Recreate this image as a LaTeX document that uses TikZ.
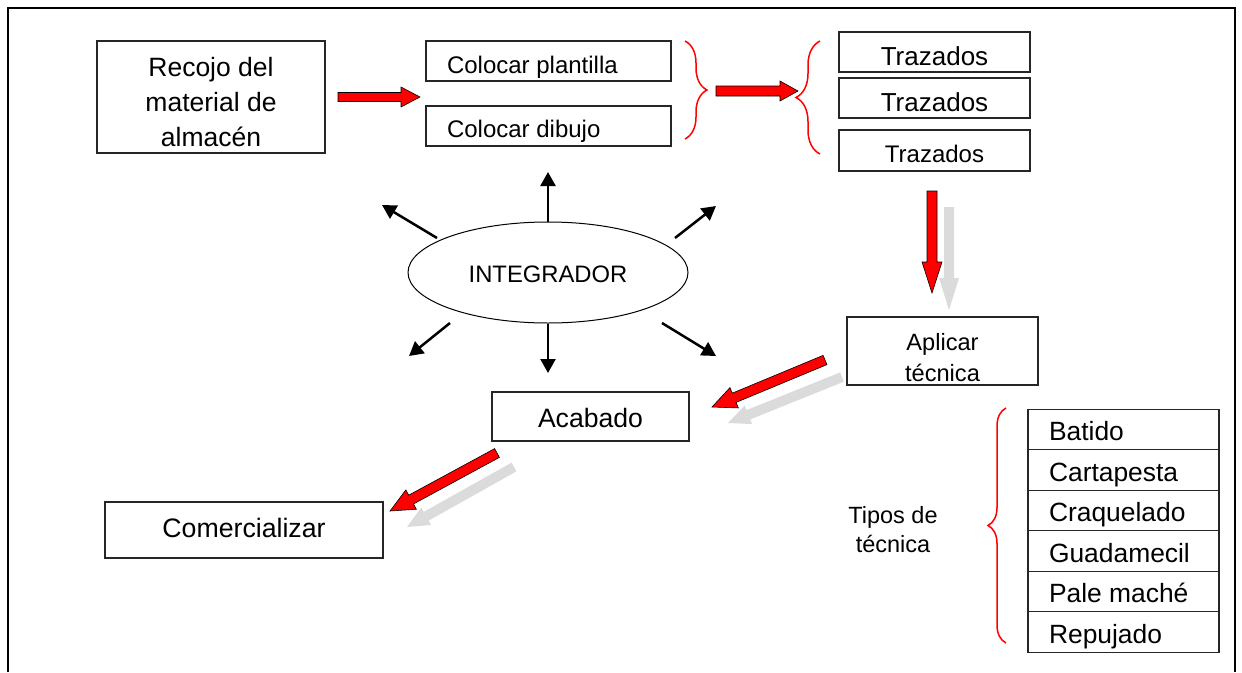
\documentclass[tikz,border=0pt]{standalone}
\usepackage{fontspec}
\setmainfont{Liberation Sans}
\usetikzlibrary{shapes.geometric,decorations.pathreplacing,calc,arrows.meta}
\newcommand\tx[4]{\raisebox{0pt}[#1][#2]{\begin{tabular}[t]{@{}#3@{}}#4\end{tabular}}}
\newcommand\blockarrow[6]{%
  \coordinate (bah) at ($(#2)!#5!(#1)$);
  \path[#6] ($(#1)!#3!90:(#2)$) -- ($(bah)!#3!90:(#2)$) -- ($(bah)!#4!90:(#2)$) -- (#2)
    -- ($(bah)!#4!-90:(#2)$) -- ($(bah)!#3!-90:(#2)$) -- ($(#1)!#3!-90:(#2)$) -- cycle;}
\begin{document}
\begin{tikzpicture}[x=1pt,y=-1pt,
  box/.style={draw=black!85, line width=1.2pt, inner sep=0pt, rectangle},
  redarrow/.style={fill=red, draw=black, line width=0.6pt},
  grayarrow/.style={fill=black!14, draw=none},
  ray/.style={line width=2.5pt, -{Triangle[length=14pt,width=15pt]}},
  redbrace/.style={draw=red, line width=1.5pt, decorate, decoration={brace, amplitude=#1}}]
\useasboundingbox (0,0) rectangle (1242,672);
% frame
\draw[line width=2.5pt] (8,672) -- (8,8) -- (1235,8) -- (1235,672);

% boxes
\node[box, minimum width=228pt, minimum height=112pt, font=\fontsize{26.5}{35}\selectfont]
  (rec) at (211,97) {\tx{0pt}{42pt}{c}{Recojo del\\material de\\almacén}};
\node[box, minimum width=245pt, minimum height=40pt, font=\fontsize{24}{30}\selectfont]
  (cp) at (548.5,61) {\makebox[203pt][l]{\tx{24pt}{0pt}{l}{Colocar plantilla}}};
\node[box, minimum width=245pt, minimum height=40pt, font=\fontsize{24}{30}\selectfont]
  (cd) at (548.5,126) {\makebox[203pt][l]{\tx{22pt}{0pt}{l}{Colocar dibujo}}};
\node[box, minimum width=191pt, minimum height=40pt, font=\fontsize{26}{30}\selectfont]
  (t1) at (934.5,52) {\tx{26pt}{0pt}{c}{Trazados}};
\node[box, minimum width=191pt, minimum height=40pt, font=\fontsize{26}{30}\selectfont]
  (t2) at (934.5,98) {\tx{26pt}{0pt}{c}{Trazados}};
\node[box, minimum width=191pt, minimum height=41pt, font=\fontsize{24}{30}\selectfont]
  (t3) at (934.5,150.5) {\tx{23pt}{0pt}{c}{Trazados}};
\node[box, minimum width=191pt, minimum height=68pt, font=\fontsize{23.6}{31}\selectfont]
  (apl) at (942.5,351) {\tx{0pt}{2pt}{c}{Aplicar\\técnica}};
\node[box, minimum width=197pt, minimum height=49pt, font=\fontsize{26.6}{30}\selectfont]
  (aca) at (590.5,416.5) {\tx{21pt}{0pt}{c}{Acabado}};
\node[box, minimum width=278pt, minimum height=56pt, font=\fontsize{26.7}{30}\selectfont]
  (com) at (244,530) {\tx{14pt}{0pt}{c}{Comercializar}};
\node[inner sep=0pt, font=\fontsize{23.5}{29}\selectfont]
  (tipos) at (893,523) {\tx{0pt}{0pt}{c}{Tipos de\\técnica}};

\foreach \name/\txt [count=\i from 0] in {l1/Batido, l2/Cartapesta, l3/Craquelado, l4/Guadamecil, l5/Pale maché, l6/Repujado}
  \node[box, minimum width=191pt, minimum height=40.5pt, font=\fontsize{26.4}{30}\selectfont]
    (\name) at (1123.5,{429.5+40.5*\i}) {\makebox[149pt][l]{\tx{22pt}{0pt}{l}{\txt}}};

% integrador
\node[ellipse, draw, line width=1pt, minimum width=280pt, minimum height=101pt, inner sep=0pt,
  font=\fontsize{23.8}{28}\selectfont] (int) at (548,272.5) {\tx{19pt}{0pt}{c}{INTEGRADOR}};

% ray coordinates
\coordinate (ulT) at (437,238); \coordinate (ulH) at (382,205);
\coordinate (urT) at (675,238); \coordinate (urH) at (716,206);
\coordinate (llT) at (450,323); \coordinate (llH) at (409,356);
\coordinate (lrT) at (662,323); \coordinate (lrH) at (716,356);
\coordinate (upH) at (548,172); \coordinate (dnH) at (548,373);
\draw[ray] (int.north) -- (upH);
\draw[ray] (int.south) -- (dnH);
\draw[ray] (ulT) -- (ulH);
\draw[ray] (urT) -- (urH);
\draw[ray] (llT) -- (llH);
\draw[ray] (lrT) -- (lrH);

% braces
\draw[redbrace=22pt] (685,41) -- (685,139);
\draw[redbrace=24pt] (820,154) -- (820,41);
\draw[redbrace=18pt] (1006,643) -- (1006,408);

% block arrows
\coordinate (a1T) at (338,97);  \coordinate (a1H) at (420,97);
\coordinate (a2T) at (716,91);  \coordinate (a2H) at (798,91);
\coordinate (a3T) at (932,191); \coordinate (a3H) at (932,293);
\coordinate (g3T) at (949,207); \coordinate (g3H) at (949,310);
\coordinate (a4T) at (825,360); \coordinate (a4H) at (712,407);
\coordinate (g4T) at (842,377); \coordinate (g4H) at (728,423);
\coordinate (a5T) at (497,453); \coordinate (a5H) at (390,511);
\coordinate (g5T) at (514,467); \coordinate (g5H) at (407,527);
\blockarrow{g3T}{g3H}{5pt}{10pt}{32pt}{grayarrow}
\blockarrow{g4T}{g4H}{5pt}{10pt}{22pt}{grayarrow}
\blockarrow{g5T}{g5H}{5pt}{10pt}{22pt}{grayarrow}
\blockarrow{a1T}{a1H}{4.5pt}{10pt}{19pt}{redarrow}
\blockarrow{a2T}{a2H}{5pt}{10pt}{18pt}{redarrow}
\blockarrow{a3T}{a3H}{5pt}{10pt}{31pt}{redarrow}
\blockarrow{a4T}{a4H}{5pt}{11pt}{24pt}{redarrow}
\blockarrow{a5T}{a5H}{5pt}{11pt}{24pt}{redarrow}
\end{tikzpicture}
\end{document}
